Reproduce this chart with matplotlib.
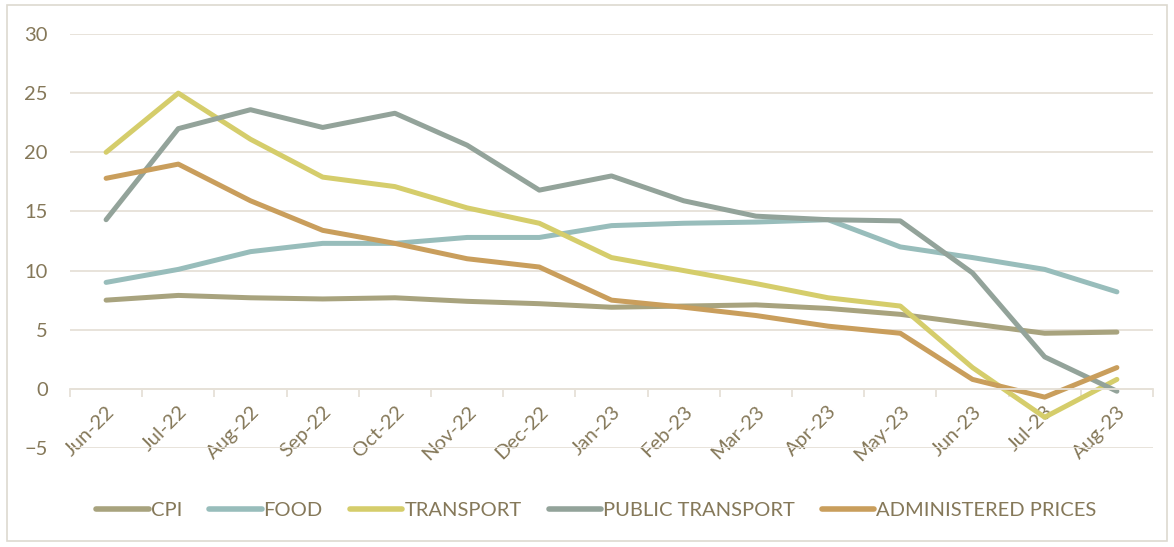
import matplotlib
import matplotlib.pyplot as plt
from matplotlib.patches import Rectangle

matplotlib.use("Agg")

months = ["Jun-22", "Jul-22", "Aug-22", "Sep-22", "Oct-22", "Nov-22", "Dec-22",
          "Jan-23", "Feb-23", "Mar-23", "Apr-23", "May-23", "Jun-23", "Jul-23", "Aug-23"]

cpi = [7.5, 7.9, 7.7, 7.6, 7.7, 7.4, 7.2, 6.9, 7.0, 7.1, 6.8, 6.3, 5.5, 4.7, 4.8]
food = [9.0, 10.1, 11.6, 12.3, 12.3, 12.8, 12.8, 13.8, 14.0, 14.1, 14.3, 12.0, 11.1, 10.1, 8.2]
transport = [20.0, 25.0, 21.1, 17.9, 17.1, 15.3, 14.0, 11.1, 10.0, 8.9, 7.7, 7.0, 1.8, -2.4, 0.8]
public_transport = [14.3, 22.0, 23.6, 22.1, 23.3, 20.6, 16.8, 18.0, 15.9, 14.6, 14.3, 14.2, 9.8, 2.7, -0.2]
administered = [17.8, 19.0, 15.9, 13.4, 12.3, 11.0, 10.3, 7.5, 6.9, 6.2, 5.3, 4.7, 0.8, -0.7, 1.8]

series = [
    ("CPI", cpi, "#A8A37E"),
    ("FOOD", food, "#98BDBB"),
    ("TRANSPORT", transport, "#D5CD6B"),
    ("PUBLIC TRANSPORT", public_transport, "#93A39A"),
    ("ADMINISTERED PRICES", administered, "#C99E5C"),
]

text_color = "#857859"
grid_color = "#E6E1D8"
plt.rcParams["font.family"] = ["Lato", "DejaVu Sans"]

fig = plt.figure(figsize=(11.74, 5.47), dpi=100)
ax = fig.add_axes([70 / 1174, 1 - 448 / 547, (1153 - 70) / 1174, (448 - 34) / 547])

x = list(range(len(months)))
for name, values, color in series:
    ax.plot(x, values, color=color, lw=3.6, label=name,
            solid_capstyle="round", solid_joinstyle="round")

ax.set_xlim(-0.5, len(months) - 0.5)
ax.set_ylim(-5, 30)
ax.set_yticks(range(-5, 31, 5))
ax.yaxis.grid(True, color=grid_color, lw=1.3)
ax.set_axisbelow(True)

for side in ["top", "right", "left"]:
    ax.spines[side].set_visible(False)
ax.spines["bottom"].set_position(("data", 0))
ax.spines["bottom"].set_color(grid_color)
ax.spines["bottom"].set_linewidth(1.3)

ax.set_xticks(x)
ax.set_xticklabels(months, rotation=45, ha="right", rotation_mode="anchor")
ax.set_xticks([i - 0.5 for i in range(len(months) + 1)], minor=True)
ax.tick_params(axis="x", which="major", length=0, pad=10, labelsize=14.5, labelcolor=text_color)
ax.tick_params(axis="x", which="minor", length=6, width=1.3, color=grid_color)
ax.tick_params(axis="y", length=0, pad=16, labelsize=14.5, labelcolor=text_color)

# legend sits centred under the plot
leg = fig.legend(loc="center", bbox_to_anchor=(0.508, 1 - 510 / 547), ncol=5,
                 frameon=False, fontsize=14.5, handlelength=2.6,
                 handletextpad=0.1, columnspacing=1.35)
for t in leg.get_texts():
    t.set_color(text_color)
for h in leg.get_lines():
    h.set_linewidth(4)

fig.patches.append(Rectangle((7 / 1174, 6 / 547), 1160 / 1174, 536 / 547,
                             transform=fig.transFigure, fill=False,
                             edgecolor="#DDD9D0", lw=1.2))

fig.savefig("out.png", dpi=100)
plt.close("all")
